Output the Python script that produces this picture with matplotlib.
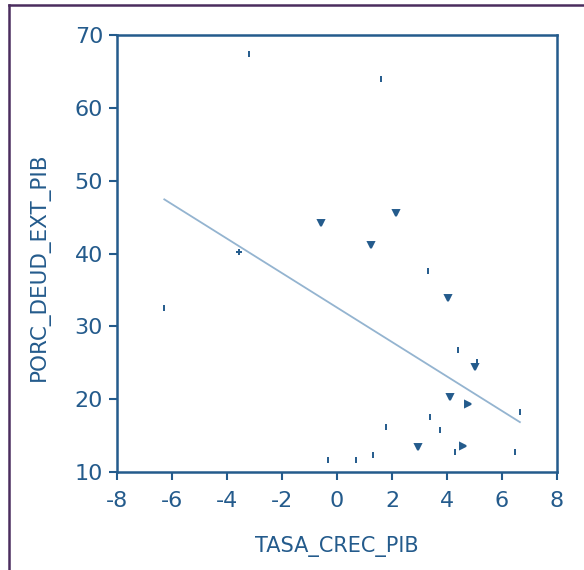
import numpy as np
import matplotlib
matplotlib.use("Agg")
import matplotlib.pyplot as plt
from matplotlib.lines import Line2D

# ── dane ──────────────────────────────────────────────────
tasa_crec_pib = [-6.28, -3.56, -3.20, -0.59, -0.32, 0.68, 1.23, 1.32, 1.59,
                 1.77, 2.13, 2.95, 3.31, 3.39, 3.76, 4.03, 4.11, 4.30, 4.39,
                 4.59, 4.77, 5.00, 5.08, 6.47, 6.65]
porc_deud_ext_pib = [32.5, 40.2, 67.4, 44.2, 11.7, 11.7, 41.2, 12.4, 63.9,
                     16.2, 45.6, 13.5, 37.6, 17.5, 15.7, 33.9, 20.3, 12.7, 26.7,
                     13.6, 19.4, 24.4, 25.1, 12.7, 18.2]
marker_kind = ['|', '+', '|', 'v', '|', '|', 'v', '|', '|',
               '|', 'v', 'v', '|', '|', '|', 'v', 'v', '|', '|',
               '>', '>', 'v', '|', '|', '|']

x_ticks = [-8, -6, -4, -2, 0, 2, 4, 6, 8]
y_ticks = [10, 20, 30, 40, 50, 60, 70]

BLUE = '#245b8c'
LINE = '#94b4d0'
BORDER = '#4b2d5e'

fig = plt.figure(figsize=(5.84, 5.70), dpi=100)
fig.patch.set_facecolor('white')
ax = fig.add_axes([117 / 584, 1 - 472 / 570, 440 / 584, 437 / 570])

x = np.array(tasa_crec_pib)
y = np.array(porc_deud_ext_pib)

for xi, yi, m in zip(x, y, marker_kind):
    size = {'|': 5, '+': 5, 'v': 4, '>': 4}[m]
    ax.plot(xi, yi, linestyle='none', marker=m, color=BLUE,
            markersize=size, markeredgewidth=1.4)

# linia regresji
b, a = np.polyfit(x, y, 1)
xs = np.array([x.min(), x.max()])
ax.plot(xs, a + b * xs, color=LINE, linewidth=1.3)

ax.set_xlim(-8, 8)
ax.set_ylim(10, 70)
ax.set_xticks(x_ticks)
ax.set_yticks(y_ticks)
ax.set_xticklabels([str(v) for v in x_ticks])
ax.set_yticklabels([str(v) for v in y_ticks])

for s in ax.spines.values():
    s.set_color(BLUE)
    s.set_linewidth(1.8)
ax.tick_params(axis='both', colors=BLUE, labelcolor=BLUE, labelsize=16,
               length=6, width=1.5, direction='out')
ax.tick_params(axis='x', pad=8)
ax.tick_params(axis='y', pad=4)

ax.set_xlabel('TASA_CREC_PIB', color=BLUE, fontsize=15, labelpad=18)
ax.set_ylabel('PORC_DEUD_EXT_PIB', color=BLUE, fontsize=15.5)
ax.yaxis.set_label_coords(-0.152, 0.47)

# ramka rysunku (lewa i gorna krawedz)
fig.add_artist(Line2D([9 / 584, 9 / 584], [0, 1 - 5 / 570],
                      transform=fig.transFigure, color=BORDER, linewidth=1.8))
fig.add_artist(Line2D([9 / 584, 1], [1 - 5 / 570, 1 - 5 / 570],
                      transform=fig.transFigure, color=BORDER, linewidth=1.8))

plt.savefig('out.png', dpi=100, facecolor='white')
